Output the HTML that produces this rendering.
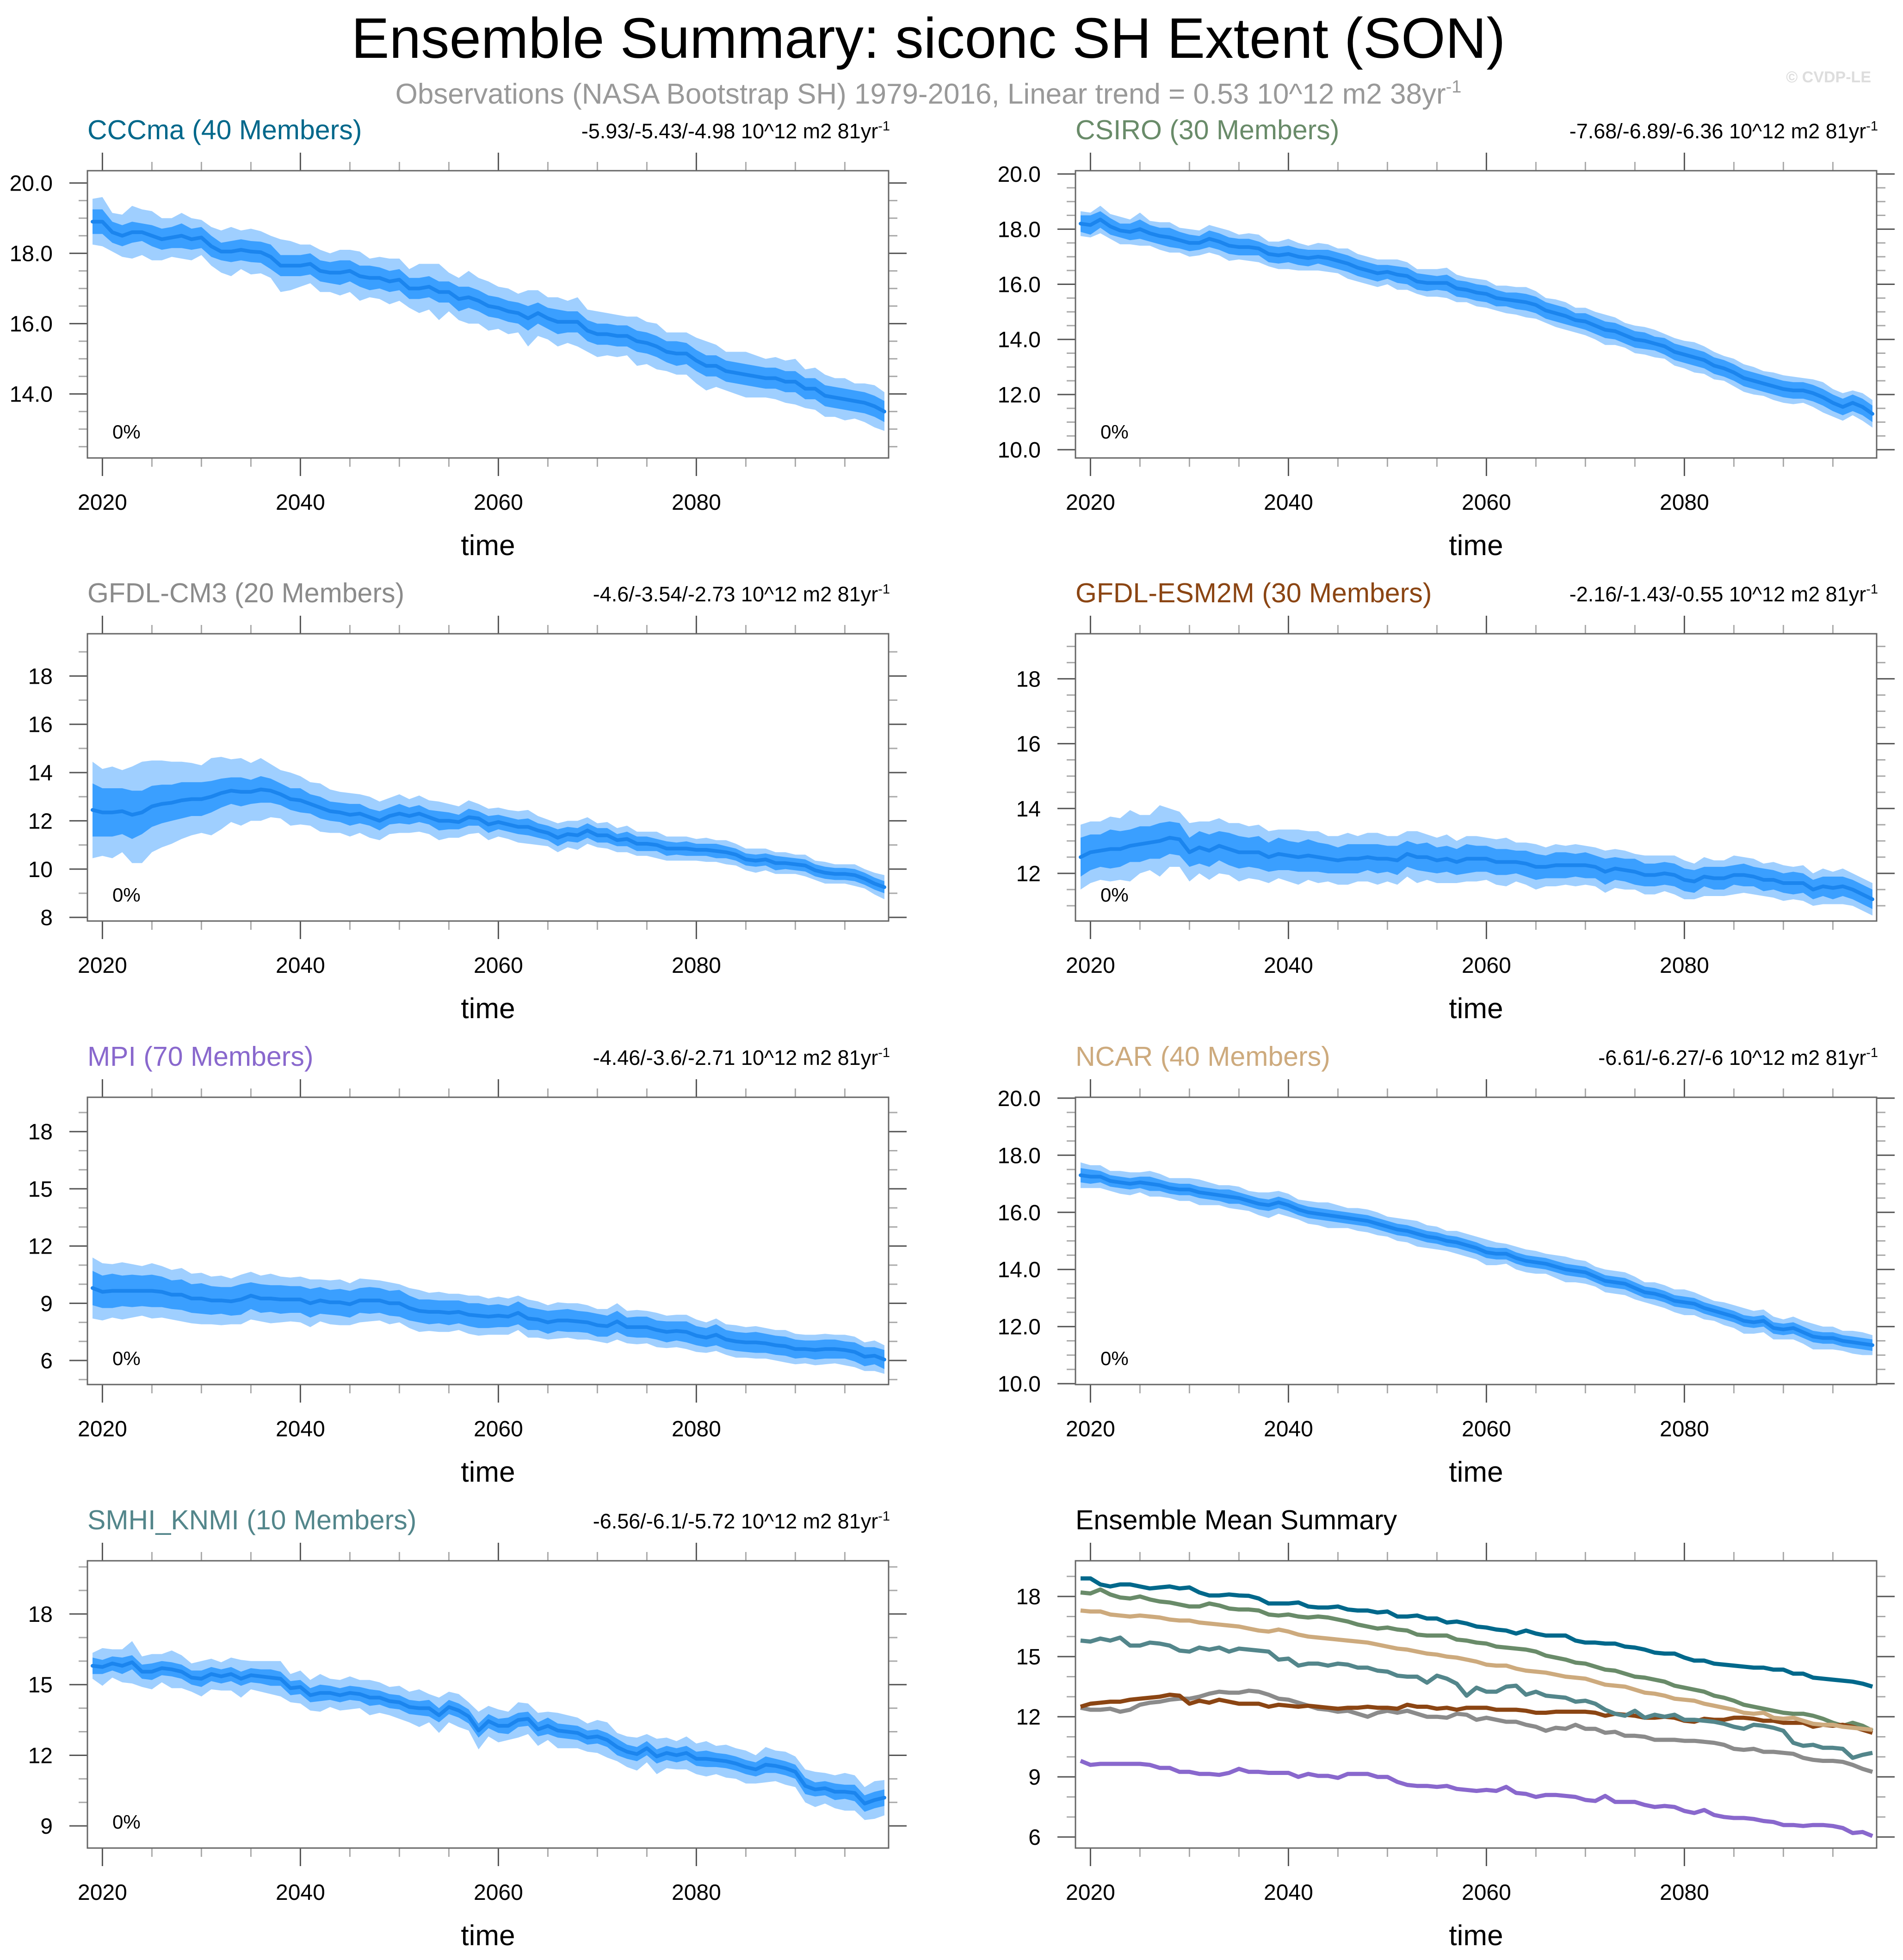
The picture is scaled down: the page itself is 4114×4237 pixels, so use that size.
<!DOCTYPE html>
<html><head><meta charset="utf-8"><title>Ensemble Summary</title>
<style>
html,body{margin:0;padding:0;background:#fff;}
svg{display:block;font-family:"Liberation Sans",Arial,sans-serif;}
</style></head>
<body>
<svg id="fig" xmlns="http://www.w3.org/2000/svg" width="4114" height="4237" viewBox="0 0 4114 4237">
<rect x="0" y="0" width="4114" height="4237" fill="#fff"/>
<text x="2007" y="125" font-size="123" text-anchor="middle" fill="#000">Ensemble Summary: siconc SH Extent (SON)</text>
<text x="2007" y="224" font-size="62" text-anchor="middle" fill="#999">Observations (NASA Bootstrap SH) 1979-2016, Linear trend = 0.53 10^12 m2 38yr<tspan dy="-24" font-size="38">-1</tspan></text>
<text x="4045" y="178" font-size="34" font-weight="bold" text-anchor="end" fill="#ddd">© CVDP-LE</text>
<g id="panels"></g>
</svg>
<script>
const years0 = 2019;
const xTicks = [2020, 2040, 2060, 2080];

const cccmaMean = [18.9,18.9,18.6,18.5,18.6,18.6,18.5,18.4,18.45,18.5,18.4,18.45,18.2,18.05,18.05,18.1,18.05,18.03,17.9,17.65,17.65,17.65,17.7,17.5,17.45,17.45,17.5,17.35,17.3,17.3,17.2,17.25,17.0,17.0,17.05,16.9,16.9,16.7,16.75,16.65,16.5,16.45,16.35,16.3,16.15,16.3,16.15,16.05,16.05,16.05,15.8,15.7,15.7,15.65,15.65,15.5,15.45,15.35,15.2,15.15,15.15,14.95,14.8,14.8,14.65,14.6,14.55,14.5,14.45,14.45,14.35,14.35,14.15,14.15,13.95,13.9,13.85,13.8,13.75,13.65,13.5];
const cccmaDark = [0.35,0.35,0.3,0.3,0.3,0.25,0.3,0.3,0.3,0.35,0.3,0.3,0.3,0.25,0.3,0.3,0.3,0.3,0.35,0.3,0.3,0.3,0.3,0.3,0.3,0.35,0.3,0.3,0.35,0.3,0.3,0.3,0.3,0.3,0.3,0.3,0.3,0.35,0.3,0.3,0.3,0.3,0.3,0.3,0.35,0.3,0.3,0.35,0.3,0.3,0.3,0.3,0.3,0.3,0.3,0.3,0.3,0.3,0.3,0.35,0.3,0.3,0.3,0.3,0.3,0.3,0.3,0.3,0.3,0.3,0.3,0.3,0.3,0.3,0.3,0.3,0.3,0.3,0.3,0.3,0.3];
const cccmaLight = [0.65,0.7,0.55,0.6,0.75,0.65,0.7,0.6,0.55,0.65,0.6,0.5,0.55,0.6,0.7,0.55,0.65,0.6,0.6,0.75,0.7,0.6,0.55,0.6,0.55,0.65,0.6,0.7,0.55,0.6,0.65,0.6,0.55,0.7,0.65,0.8,0.55,0.6,0.75,0.65,0.7,0.6,0.65,0.55,0.8,0.65,0.6,0.7,0.6,0.7,0.6,0.65,0.6,0.6,0.55,0.7,0.6,0.65,0.55,0.6,0.6,0.65,0.7,0.6,0.55,0.6,0.65,0.6,0.55,0.6,0.6,0.65,0.55,0.6,0.6,0.55,0.6,0.5,0.55,0.6,0.55];

const csiroMean = [18.2,18.15,18.35,18.1,17.95,17.9,18.0,17.85,17.75,17.7,17.6,17.5,17.5,17.65,17.55,17.4,17.35,17.35,17.3,17.1,17.05,17.1,17.0,16.95,17.0,16.95,16.85,16.75,16.6,16.5,16.4,16.45,16.35,16.3,16.1,16.05,16.05,16.05,15.85,15.8,15.7,15.65,15.5,15.45,15.4,15.35,15.25,15.05,14.95,14.85,14.7,14.65,14.5,14.35,14.3,14.15,14.0,13.95,13.85,13.75,13.55,13.45,13.35,13.25,13.05,12.95,12.8,12.6,12.5,12.4,12.3,12.2,12.15,12.15,12.05,11.9,11.7,11.55,11.7,11.55,11.3];
const csiroDark = [0.3,0.35,0.3,0.3,0.25,0.3,0.35,0.3,0.3,0.35,0.3,0.3,0.25,0.3,0.3,0.3,0.3,0.3,0.25,0.3,0.3,0.3,0.3,0.3,0.25,0.3,0.3,0.3,0.3,0.3,0.3,0.25,0.3,0.3,0.3,0.3,0.25,0.3,0.3,0.3,0.3,0.3,0.3,0.25,0.3,0.3,0.3,0.3,0.3,0.3,0.25,0.3,0.3,0.3,0.3,0.3,0.3,0.3,0.25,0.3,0.3,0.3,0.3,0.3,0.3,0.3,0.3,0.3,0.3,0.3,0.3,0.3,0.3,0.3,0.3,0.3,0.3,0.3,0.3,0.3,0.3];
const csiroLight = [0.45,0.45,0.5,0.45,0.5,0.45,0.6,0.45,0.5,0.55,0.45,0.5,0.45,0.5,0.5,0.55,0.45,0.5,0.5,0.45,0.5,0.55,0.5,0.45,0.5,0.5,0.45,0.55,0.5,0.5,0.5,0.45,0.55,0.5,0.45,0.5,0.5,0.55,0.5,0.45,0.5,0.5,0.45,0.5,0.5,0.55,0.5,0.45,0.5,0.5,0.45,0.5,0.5,0.55,0.5,0.45,0.5,0.5,0.5,0.45,0.5,0.5,0.55,0.5,0.5,0.45,0.5,0.5,0.5,0.45,0.5,0.5,0.5,0.45,0.5,0.55,0.5,0.5,0.45,0.5,0.5];

const cm3Mean = [12.45,12.35,12.35,12.4,12.25,12.35,12.6,12.7,12.75,12.85,12.9,12.9,13.0,13.15,13.25,13.2,13.2,13.3,13.25,13.1,12.9,12.85,12.7,12.55,12.4,12.35,12.25,12.3,12.15,12.0,12.2,12.3,12.2,12.3,12.15,12.0,12.0,11.95,12.15,12.1,11.85,11.95,11.85,11.75,11.75,11.6,11.5,11.3,11.45,11.4,11.6,11.4,11.4,11.2,11.25,11.05,11.05,11.0,10.85,10.85,10.85,10.8,10.8,10.75,10.7,10.6,10.4,10.35,10.4,10.25,10.25,10.2,10.15,9.95,9.85,9.8,9.8,9.75,9.6,9.4,9.25];
const cm3Dark = [1.1,1.0,1.0,0.95,1.0,0.9,0.85,0.8,0.75,0.75,0.7,0.7,0.65,0.6,0.55,0.6,0.5,0.55,0.5,0.45,0.45,0.5,0.4,0.45,0.4,0.4,0.45,0.4,0.35,0.4,0.35,0.4,0.35,0.35,0.3,0.4,0.35,0.3,0.35,0.3,0.35,0.3,0.3,0.3,0.35,0.3,0.3,0.35,0.3,0.3,0.3,0.3,0.3,0.25,0.3,0.3,0.3,0.25,0.3,0.25,0.3,0.25,0.25,0.3,0.25,0.25,0.25,0.25,0.25,0.3,0.25,0.25,0.25,0.25,0.25,0.25,0.25,0.25,0.25,0.25,0.25];
const cm3Light = [2.0,1.8,1.9,1.7,2.0,2.1,1.9,1.8,1.7,1.6,1.5,1.4,1.6,1.5,1.3,1.4,1.2,1.3,1.1,1.0,1.1,1.0,0.9,1.0,0.9,0.85,0.9,0.8,0.85,0.8,0.75,0.8,0.7,0.75,0.7,0.8,0.7,0.65,0.7,0.6,0.65,0.6,0.6,0.65,0.7,0.6,0.55,0.6,0.55,0.6,0.55,0.5,0.55,0.5,0.55,0.5,0.5,0.55,0.5,0.5,0.5,0.45,0.5,0.45,0.5,0.45,0.45,0.5,0.45,0.45,0.45,0.4,0.45,0.4,0.45,0.4,0.4,0.45,0.4,0.45,0.5];

const esmMean = [12.5,12.65,12.7,12.75,12.75,12.85,12.9,12.95,13.0,13.1,13.05,12.65,12.8,12.7,12.85,12.75,12.65,12.65,12.65,12.5,12.6,12.55,12.5,12.55,12.5,12.45,12.4,12.45,12.45,12.5,12.45,12.45,12.4,12.6,12.5,12.5,12.4,12.45,12.35,12.45,12.45,12.45,12.35,12.35,12.35,12.3,12.2,12.2,12.25,12.25,12.25,12.25,12.2,12.05,12.15,12.1,12.05,11.95,11.95,12.0,11.95,11.8,11.75,11.9,11.85,11.85,11.95,11.95,11.9,11.8,11.8,11.7,11.7,11.7,11.5,11.6,11.55,11.6,11.5,11.35,11.2];
const esmDark = [0.6,0.55,0.5,0.6,0.55,0.5,0.55,0.5,0.55,0.5,0.5,0.45,0.5,0.5,0.45,0.5,0.5,0.45,0.5,0.45,0.5,0.45,0.45,0.5,0.45,0.45,0.4,0.45,0.45,0.4,0.45,0.4,0.45,0.4,0.4,0.45,0.4,0.4,0.4,0.45,0.4,0.4,0.4,0.4,0.35,0.4,0.4,0.35,0.4,0.4,0.35,0.4,0.35,0.4,0.35,0.35,0.4,0.35,0.35,0.35,0.35,0.35,0.35,0.3,0.35,0.35,0.3,0.35,0.3,0.35,0.3,0.3,0.35,0.3,0.3,0.3,0.35,0.3,0.3,0.3,0.3];
const esmLight = [1.0,0.95,0.9,1.0,0.95,1.1,0.9,0.85,1.1,0.9,0.85,0.9,0.8,0.9,0.85,0.8,0.9,0.8,0.85,0.8,0.75,0.8,0.85,0.75,0.8,0.7,0.75,0.8,0.7,0.75,0.8,0.7,0.75,0.7,0.8,0.7,0.7,0.75,0.65,0.7,0.7,0.65,0.7,0.75,0.6,0.65,0.7,0.6,0.65,0.6,0.65,0.6,0.6,0.65,0.6,0.6,0.55,0.6,0.6,0.55,0.6,0.6,0.55,0.6,0.55,0.55,0.6,0.55,0.55,0.5,0.55,0.55,0.5,0.55,0.5,0.55,0.5,0.55,0.5,0.5,0.5];

const mpiMean = [9.8,9.6,9.65,9.65,9.65,9.65,9.65,9.6,9.45,9.45,9.25,9.25,9.15,9.15,9.1,9.2,9.4,9.25,9.25,9.2,9.2,9.2,9.0,9.15,9.05,9.05,8.95,9.15,9.15,9.15,9.0,9.0,8.75,8.6,8.55,8.55,8.5,8.55,8.4,8.35,8.3,8.35,8.3,8.5,8.2,8.15,8.0,8.1,8.1,8.05,8.0,7.85,7.8,8.05,7.75,7.75,7.75,7.6,7.5,7.55,7.5,7.3,7.2,7.35,7.1,7.0,6.95,6.95,6.9,6.8,6.75,6.6,6.6,6.55,6.6,6.6,6.55,6.45,6.2,6.25,6.05];
const mpiDark = [0.9,0.85,0.9,0.8,0.85,0.8,0.85,0.8,0.75,0.8,0.75,0.8,0.75,0.7,0.75,0.8,0.7,0.75,0.7,0.75,0.7,0.7,0.75,0.7,0.65,0.7,0.7,0.65,0.7,0.65,0.65,0.7,0.65,0.6,0.65,0.6,0.65,0.6,0.6,0.65,0.6,0.6,0.55,0.6,0.6,0.55,0.6,0.55,0.6,0.55,0.55,0.6,0.55,0.55,0.5,0.55,0.55,0.5,0.55,0.5,0.55,0.5,0.5,0.55,0.5,0.5,0.5,0.55,0.5,0.5,0.5,0.5,0.45,0.5,0.5,0.5,0.45,0.5,0.5,0.45,0.5];
const mpiLight = [1.6,1.5,1.4,1.5,1.4,1.3,1.45,1.35,1.3,1.4,1.3,1.35,1.25,1.3,1.2,1.3,1.25,1.2,1.3,1.2,1.15,1.2,1.25,1.1,1.15,1.2,1.1,1.15,1.1,1.05,1.1,1.0,1.05,1.1,1.0,1.05,1.0,0.95,1.0,1.05,0.95,1.0,0.95,0.9,1.0,0.95,0.9,0.95,0.9,0.95,0.9,0.85,0.9,0.95,0.85,0.9,0.85,0.9,0.85,0.85,0.9,0.85,0.8,0.85,0.8,0.85,0.8,0.85,0.8,0.8,0.85,0.8,0.75,0.8,0.8,0.75,0.8,0.8,0.75,0.8,0.75];

const ncarMean = [17.3,17.25,17.25,17.1,17.05,17.0,17.05,17.0,16.95,16.85,16.8,16.8,16.7,16.65,16.6,16.55,16.5,16.4,16.3,16.25,16.35,16.25,16.1,16.0,15.95,15.9,15.85,15.8,15.75,15.7,15.6,15.5,15.4,15.35,15.25,15.15,15.1,15.0,14.95,14.85,14.75,14.6,14.55,14.55,14.4,14.3,14.25,14.2,14.1,14.0,13.95,13.9,13.75,13.6,13.55,13.5,13.35,13.2,13.15,13.05,12.9,12.85,12.8,12.65,12.55,12.45,12.35,12.2,12.15,12.2,11.95,11.9,11.95,11.8,11.65,11.6,11.6,11.5,11.45,11.4,11.35];
const ncarDark = [0.25,0.25,0.2,0.2,0.2,0.2,0.2,0.25,0.2,0.2,0.2,0.2,0.2,0.2,0.2,0.25,0.2,0.2,0.2,0.2,0.2,0.2,0.2,0.2,0.2,0.2,0.2,0.2,0.2,0.2,0.2,0.2,0.2,0.2,0.2,0.2,0.2,0.2,0.2,0.2,0.2,0.2,0.2,0.2,0.2,0.2,0.2,0.2,0.2,0.2,0.2,0.2,0.2,0.2,0.2,0.2,0.2,0.2,0.2,0.2,0.2,0.2,0.2,0.2,0.2,0.2,0.2,0.2,0.2,0.2,0.2,0.2,0.2,0.2,0.2,0.2,0.2,0.2,0.2,0.2,0.2];
const ncarLight = [0.45,0.4,0.4,0.35,0.4,0.4,0.35,0.45,0.4,0.35,0.4,0.4,0.45,0.4,0.35,0.4,0.4,0.35,0.4,0.45,0.4,0.4,0.35,0.4,0.4,0.45,0.4,0.35,0.4,0.4,0.4,0.35,0.4,0.4,0.45,0.4,0.4,0.35,0.4,0.4,0.4,0.45,0.4,0.35,0.4,0.4,0.4,0.35,0.4,0.45,0.4,0.4,0.35,0.4,0.4,0.4,0.4,0.35,0.4,0.4,0.4,0.45,0.4,0.4,0.35,0.4,0.4,0.45,0.4,0.4,0.4,0.35,0.4,0.4,0.45,0.4,0.4,0.35,0.4,0.4,0.35];

const smhiMean = [15.8,15.75,15.9,15.8,15.95,15.55,15.55,15.7,15.65,15.55,15.3,15.25,15.45,15.35,15.45,15.25,15.4,15.35,15.3,15.25,14.85,14.9,14.55,14.65,14.65,14.55,14.65,14.6,14.45,14.45,14.3,14.25,14.05,14.0,14.0,13.7,14.05,13.9,13.65,13.05,13.45,13.25,13.25,13.5,13.55,13.1,13.25,13.05,13.0,12.95,12.75,12.8,12.65,12.35,12.15,12.05,12.3,11.95,12.1,12.0,12.1,11.85,11.85,11.8,11.75,11.65,11.5,11.4,11.6,11.55,11.45,11.3,10.7,10.55,10.6,10.45,10.45,10.4,9.95,10.1,10.2];
const smhiDark = [0.35,0.3,0.3,0.35,0.3,0.3,0.35,0.3,0.3,0.3,0.3,0.35,0.3,0.3,0.3,0.3,0.3,0.3,0.35,0.3,0.3,0.3,0.3,0.35,0.3,0.3,0.3,0.3,0.35,0.3,0.3,0.3,0.3,0.3,0.35,0.3,0.3,0.3,0.3,0.3,0.3,0.3,0.35,0.3,0.3,0.3,0.35,0.3,0.3,0.3,0.3,0.3,0.3,0.35,0.3,0.3,0.3,0.3,0.3,0.3,0.3,0.3,0.35,0.3,0.3,0.3,0.3,0.3,0.35,0.3,0.3,0.3,0.35,0.3,0.3,0.35,0.3,0.35,0.35,0.35,0.35];
const smhiLight = [0.55,0.8,0.6,0.7,0.9,0.65,0.75,0.6,0.8,0.7,0.6,0.75,0.65,0.6,0.7,0.8,0.6,0.65,0.7,0.75,0.6,0.7,0.65,0.8,0.6,0.65,0.7,0.6,0.75,0.65,0.6,0.7,0.65,0.8,0.6,0.75,0.65,0.7,0.6,0.8,0.65,0.7,0.6,0.75,0.65,0.7,0.6,0.75,0.7,0.65,0.6,0.7,0.75,0.6,0.65,0.7,0.6,0.75,0.65,0.6,0.7,0.65,0.75,0.6,0.7,0.65,0.7,0.6,0.75,0.65,0.7,0.65,0.7,0.75,0.65,0.7,0.8,0.75,0.7,0.8,0.75];

const panels = [
 {key:'cccma', title:'CCCma (40 Members)', color:'#00688b', trend:'-5.93/-5.43/-4.98 10^12 m2 81yr', col:0,row:0, ymin:12.18, ymax:20.35, yticks:[14,16,18,20], dec:1, minor:0.5, mean:cccmaMean, dark:cccmaDark, light:cccmaLight},
 {key:'csiro', title:'CSIRO (30 Members)', color:'#698b69', trend:'-7.68/-6.89/-6.36 10^12 m2 81yr', col:1,row:0, ymin:9.70, ymax:20.12, yticks:[10,12,14,16,18,20], dec:1, minor:0.5, mean:csiroMean, dark:csiroDark, light:csiroLight},
 {key:'gfdl-cm3', title:'GFDL-CM3 (20 Members)', color:'#8b8b8b', trend:'-4.6/-3.54/-2.73 10^12 m2 81yr', col:0,row:1, ymin:7.85, ymax:19.75, yticks:[8,10,12,14,16,18], dec:0, minor:1, mean:cm3Mean, dark:cm3Dark, light:cm3Light},
 {key:'gfdl-esm2m', title:'GFDL-ESM2M (30 Members)', color:'#8b4513', trend:'-2.16/-1.43/-0.55 10^12 m2 81yr', col:1,row:1, ymin:10.53, ymax:19.39, yticks:[12,14,16,18], dec:0, minor:0.5, mean:esmMean, dark:esmDark, light:esmLight},
 {key:'mpi', title:'MPI (70 Members)', color:'#8968cd', trend:'-4.46/-3.6/-2.71 10^12 m2 81yr', col:0,row:2, ymin:4.74, ymax:19.8, yticks:[6,9,12,15,18], dec:0, minor:1, mean:mpiMean, dark:mpiDark, light:mpiLight},
 {key:'ncar', title:'NCAR (40 Members)', color:'#cdaa7d', trend:'-6.61/-6.27/-6 10^12 m2 81yr', col:1,row:2, ymin:9.97, ymax:20.03, yticks:[10,12,14,16,18,20], dec:1, minor:0.5, mean:ncarMean, dark:ncarDark, light:ncarLight},
 {key:'smhi-knmi', title:'SMHI_KNMI (10 Members)', color:'#53868b', trend:'-6.56/-6.1/-5.72 10^12 m2 81yr', col:0,row:3, ymin:8.06, ymax:20.26, yticks:[9,12,15,18], dec:0, minor:1, mean:smhiMean, dark:smhiDark, light:smhiLight}
];

const NS = 'http://www.w3.org/2000/svg';
const root = document.getElementById('panels');
const BOXW = 1732, BOXH = 621;
const colX = [189, 2325];
const rowY = [369, 1370, 2372, 3374];

function mk(tag, attrs, parent) {
  const e = document.createElementNS(NS, tag);
  for (const k in attrs) e.setAttribute(k, attrs[k]);
  parent.appendChild(e);
  return e;
}

function drawFrame(g, L, T, ymin, ymax, yticks, dec, minor, key) {
  const xOf = yr => L + 11 + (yr - years0) * 21.4;
  const yOf = v => T + BOXH - (v - ymin) / (ymax - ymin) * BOXH;
  const B = T + BOXH, R = L + BOXW;
  for (let yr = 2020; yr <= 2095; yr += 5) {
    const major = (yr % 20 === 0);
    const len = major ? 39 : 19;
    const x = xOf(yr);
    const c = major ? '#555' : '#aaa';
    const t1 = mk('line', {x1:x, x2:x, y1:B, y2:B+len, stroke:c, 'stroke-width':3}, g);
    
    
    const t2 = mk('line', {x1:x, x2:x, y1:T, y2:T-len, stroke:c, 'stroke-width':3}, g);
    
    
  }
  xTicks.forEach(yr => {
    const t = mk('text', {x:xOf(yr), y:B+112, 'font-size':48, 'text-anchor':'middle', fill:'#000'}, g);
    t.textContent = yr;
    
    
  });
  const start = Math.ceil(ymin / minor) * minor;
  for (let v = start; v <= ymax + 1e-9; v += minor) {
    const isMajor = yticks.some(t => Math.abs(t - v) < 1e-6);
    if (isMajor) continue;
    const y = yOf(v);
    const m1 = mk('line', {x1:L-19, x2:L, y1:y, y2:y, stroke:'#aaa', 'stroke-width':3}, g);
    
    
    const m2 = mk('line', {x1:R, x2:R+19, y1:y, y2:y, stroke:'#aaa', 'stroke-width':3}, g);
    
    
  }
  yticks.forEach(v => {
    const y = yOf(v);
    const a = mk('line', {x1:L-39, x2:L, y1:y, y2:y, stroke:'#555', 'stroke-width':3}, g);
    
    
    const b = mk('line', {x1:R, x2:R+39, y1:y, y2:y, stroke:'#555', 'stroke-width':3}, g);
    
    
    const t = mk('text', {x:L-75, y:y+17, 'font-size':48, 'text-anchor':'end', fill:'#000'}, g);
    t.textContent = v.toFixed(dec);
    
    
  });
  const tl = mk('text', {x:L+BOXW/2, y:B+210, 'font-size':62, 'text-anchor':'middle', fill:'#000'}, g);
  tl.textContent = 'time';
  
  
  const cp = mk('clipPath', {id:'clip-'+key}, g);
  mk('rect', {x:L, y:T, width:BOXW, height:BOXH}, cp);
  return {xOf, yOf};
}

function drawBox(g, L, T) {
  const r = mk('rect', {x:L, y:T, width:BOXW, height:BOXH, fill:'none', stroke:'#666', 'stroke-width':3}, g);
  
  
}

function band(mean, w, xOf, yOf) {
  const up = [], dn = [];
  for (let i = 0; i < mean.length; i++) {
    const wi = (w[i] !== undefined) ? w[i] : w[w.length-1];
    up.push(xOf(years0+i).toFixed(1)+','+yOf(mean[i]+wi).toFixed(1));
    dn.push(xOf(years0+i).toFixed(1)+','+yOf(mean[i]-wi).toFixed(1));
  }
  return up.concat(dn.reverse()).join(' ');
}
function line(mean, xOf, yOf) {
  return mean.map((v,i) => xOf(years0+i).toFixed(1)+','+yOf(v).toFixed(1)).join(' ');
}

panels.forEach(p => {
  const L = colX[p.col], T = rowY[p.row];
  const g = mk('g', {}, root);
  
  
  const ax = drawFrame(g, L, T, p.ymin, p.ymax, p.yticks, p.dec, p.minor, p.key);
  const dg = mk('g', {'clip-path':'url(#clip-'+p.key+')'}, g);
  const lb = mk('polygon', {points:band(p.mean, p.light, ax.xOf, ax.yOf), fill:'#9fcfff'}, dg);
  
  
  const db = mk('polygon', {points:band(p.mean, p.dark, ax.xOf, ax.yOf), fill:'#3a9fff'}, dg);
  
  
  const ml = mk('polyline', {points:line(p.mean, ax.xOf, ax.yOf), fill:'none', stroke:'#1b85ee', 'stroke-width':8, 'stroke-linejoin':'round', 'stroke-linecap':'round'}, dg);
  
  
  drawBox(g, L, T);
  const t = mk('text', {x:L, y:T-68, 'font-size':59, fill:p.color}, g);
  t.textContent = p.title;
  
  
  const tr = mk('text', {x:L+BOXW+3, y:T-70, 'font-size':45, 'text-anchor':'end', fill:'#000'}, g);
  tr.textContent = p.trend;
  const sup = mk('tspan', {dy:-17, 'font-size':29}, tr);
  sup.textContent = '-1';
  
  
  const pc = mk('text', {x:L+54, y:T+BOXH-42, 'font-size':42, fill:'#000'}, g);
  pc.textContent = '0%';
  
  
});

(function(){
  const L = colX[1], T = rowY[3];
  const g = mk('g', {}, root);
  
  
  const ax = drawFrame(g, L, T, 5.45, 19.78, [6,9,12,15,18], 0, 1, 'ens');
  const dg = mk('g', {'clip-path':'url(#clip-ens)'}, g);
  panels.forEach(p => {
    const pl = mk('polyline', {points:line(p.mean, ax.xOf, ax.yOf), fill:'none', stroke:p.color, 'stroke-width':9, 'stroke-linejoin':'round'}, dg);
    
    
  });
  drawBox(g, L, T);
  const t = mk('text', {x:L, y:T-68, 'font-size':59, fill:'#000'}, g);
  t.textContent = 'Ensemble Mean Summary';
  
  
})();
</script>
</body></html>
